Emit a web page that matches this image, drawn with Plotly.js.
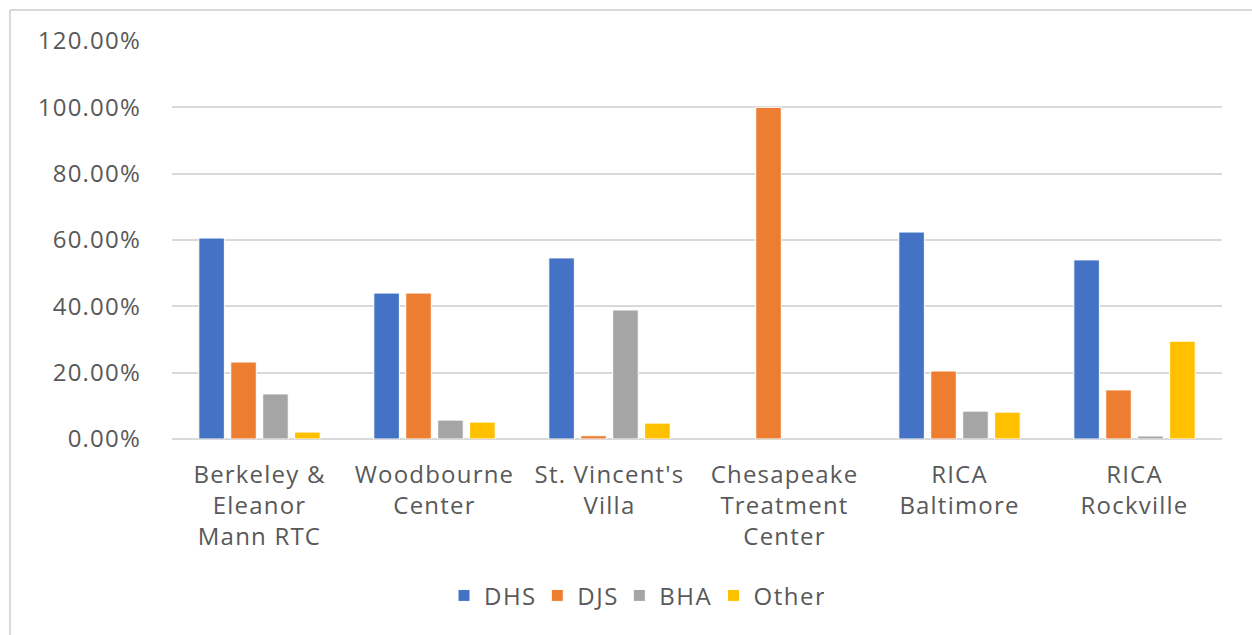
<!DOCTYPE html>
<html><head><meta charset="utf-8">
<script src="https://cdn.plot.ly/plotly-3.0.1.min.js"></script>
<style>html,body{margin:0;padding:0;background:#fff;}#chart{width:1252px;height:635px;}
#chart .xtick text, #chart .ytick text {letter-spacing: 1.2px;}
#chart .legendtext {letter-spacing: 1.5px;}
</style>
</head><body><div id="chart"></div>
<script>
const categories = ["Berkeley &<br>Eleanor<br>Mann RTC", "Woodbourne<br>Center", "St. Vincent's<br>Villa", "Chesapeake<br>Treatment<br>Center", "RICA<br>Baltimore", "RICA<br>Rockville"];
const seriesNames = ["DHS", "DJS", "BHA", "Other"];
const dhs   = [60.6, 44.0, 54.6, 0, 62.4, 54.0];
const djs   = [23.2, 44.0, 1.0, 100.0, 20.5, 14.8];
const bha   = [13.6, 5.7, 38.9, 0, 8.4, 0.9];
const other = [2.1, 5.1, 4.8, 0, 8.1, 29.5];
const colors = ["#4472C4", "#ED7D31", "#A5A5A5", "#FFC000"];
const tickVals = [0, 20, 40, 60, 80, 100, 120];
const tickText = ["0.00%", "20.00%", "40.00%", "60.00%", "80.00%", "100.00%", "120.00%"];

const allSeries = [dhs, djs, bha, other];
const traces = allSeries.map((vals, i) => ({
  type: 'bar', name: seriesNames[i], x: categories, y: vals.map(v => v === 0 ? null : v),
  marker: {color: colors[i], line: {color: '#ffffff', width: 1}},
  hoverinfo: 'skip'
}));

const font = "'Open Sans', 'DejaVu Sans', sans-serif";
const layout = {
  width: 1252, height: 635,
  margin: {l: 172, r: 30, t: 41, b: 196},
  paper_bgcolor: '#ffffff', plot_bgcolor: '#ffffff',
  barmode: 'group', bargap: 0.27, bargroupgap: 0.2,
  showlegend: true,
  legend: {orientation: 'h', x: 0.44, xanchor: 'center', y: -0.394, yanchor: 'middle',
           font: {family: font, size: 24, color: '#595959'}, itemwidth: 30, traceorder: 'normal'},
  xaxis: {type: 'category', showgrid: false, zeroline: false, showline: false, ticks: '',
          ticklabelstandoff: 19,
          tickfont: {family: font, size: 24, color: '#595959'}, automargin: false},
  yaxis: {range: [0, 120], tickvals: tickVals, ticktext: tickText, showgrid: true,
          gridcolor: '#d9d9d9', gridwidth: 2, zeroline: true, zerolinecolor: '#d9d9d9', zerolinewidth: 2,
          showline: false, ticks: '', ticklabelstandoff: 30,
          tickfont: {family: font, size: 24, color: '#595959'}, automargin: false},
  shapes: [
    {type: 'line', xref: 'paper', yref: 'paper', x0: (10-172)/1050, x1: (1260-172)/1050, y0: (439-10)/398, y1: (439-10)/398, line: {color: '#d9d9d9', width: 2}},
    {type: 'line', xref: 'paper', yref: 'paper', x0: (10-172)/1050, x1: (10-172)/1050, y0: (439-10)/398, y1: (439-640)/398, line: {color: '#d9d9d9', width: 2}}
  ]
};
Plotly.newPlot('chart', traces, layout, {displayModeBar: false, staticPlot: true});
</script></body></html>
